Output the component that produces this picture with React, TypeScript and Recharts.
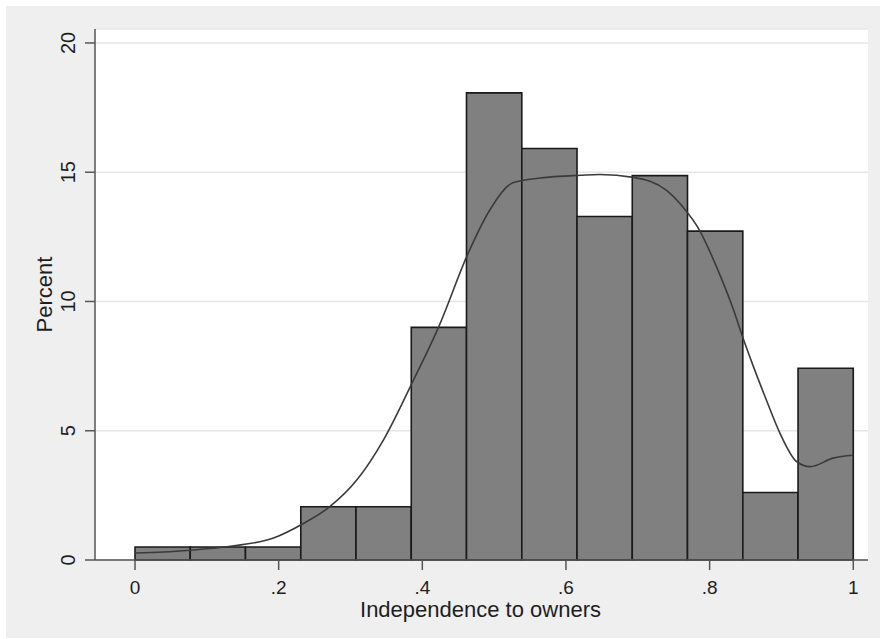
import {
  ComposedChart, Line, XAxis, YAxis, CartesianGrid, ReferenceArea,
} from "recharts";

// histogram bins (13 equal bins over 0..1), height in percent
const BIN_START = [0, 0.0769, 0.1538, 0.2308, 0.3077, 0.3846, 0.4615, 0.5385, 0.6154, 0.6923, 0.7692, 0.8462, 0.9231];
const BIN_END = [0.0769, 0.1538, 0.2308, 0.3077, 0.3846, 0.4615, 0.5385, 0.6154, 0.6923, 0.7692, 0.8462, 0.9231, 1];
const BIN_PERCENT = [0.5, 0.5, 0.5, 2.06, 2.06, 9.0, 18.07, 15.92, 13.29, 14.87, 12.72, 2.61, 7.42];

// kernel density overlay
const CURVE_X = [0, 0.04, 0.077, 0.133, 0.193, 0.235, 0.272, 0.309, 0.346, 0.388, 0.423, 0.464, 0.494, 0.527, 0.573, 0.62, 0.647, 0.694, 0.74, 0.763, 0.786, 0.8, 0.814, 0.833, 0.845, 0.861, 0.879, 0.898, 0.921, 0.94, 0.972, 1];
const CURVE_Y = [0.27, 0.31, 0.38, 0.53, 0.85, 1.42, 2.08, 3.1, 4.65, 6.98, 9.03, 11.88, 13.54, 14.6, 14.8, 14.88, 14.91, 14.8, 14.3, 13.65, 12.75, 11.95, 11.05, 9.7, 8.7, 7.48, 6.19, 4.9, 3.81, 3.61, 3.94, 4.05];

const X_TICKS = [0, 0.2, 0.4, 0.6, 0.8, 1];
const X_TICK_LABELS = ["0", ".2", ".4", ".6", ".8", "1"];
const Y_TICKS = [0, 5, 10, 15, 20];

const FONT = "'Liberation Sans', Arial, sans-serif";
const TEXT = "#1e1e1e";

const curveData = CURVE_X.map((x, i) => ({ x, d: CURVE_Y[i] }));

function XTick({ x, y, payload }: any) {
  const i = X_TICKS.indexOf(payload.value);
  return (
    <text x={x} y={y + 24} textAnchor="middle" fontSize={19} fontFamily={FONT} fill={TEXT}>
      {i >= 0 ? X_TICK_LABELS[i] : payload.value}
    </text>
  );
}

function YTick({ x, y, payload }: any) {
  const bx = x - 10;
  return (
    <text x={bx} y={y} transform={`rotate(-90, ${bx}, ${y})`} textAnchor="middle" fontSize={20} fontFamily={FONT} fill={TEXT}>
      {payload.value}
    </text>
  );
}

function XTitle(props: any) {
  const vb = props.viewBox || { x: 89, y: 554, width: 773, height: 78 };
  return (
    <text x={vb.x + vb.width / 2 - 1} y={vb.y + 57} textAnchor="middle" fontSize={22} fontFamily={FONT} fill={TEXT}>
      Independence to owners
    </text>
  );
}

function YTitle(props: any) {
  const vb = props.viewBox || { x: 0, y: 23, width: 89, height: 531 };
  const cx = vb.x + 46;
  const cy = vb.y + vb.height / 2;
  return (
    <text x={cx} y={cy} transform={`rotate(-90, ${cx}, ${cy})`} textAnchor="middle" fontSize={22} fontFamily={FONT} fill={TEXT}>
      Percent
    </text>
  );
}

export default function App() {
  return (
    <div style={{ position: "absolute", left: 0, top: 0, width: 880, height: 639, background: "#ffffff" }}>
      <div style={{ position: "absolute", left: 6, top: 6, width: 874, height: 632, background: "#efefef" }}>
        <ComposedChart
          width={874}
          height={632}
          data={curveData}
          margin={{ top: 23, right: 12, left: 0, bottom: 0 }}
        >
          <CartesianGrid vertical={false} fill="#ffffff" stroke="#e6e6e6" strokeWidth={1.5} />
          <XAxis
            dataKey="x"
            type="number"
            domain={[-0.0557, 1.0205]}
            ticks={X_TICKS}
            height={78}
            tickSize={10}
            tickMargin={0}
            tick={<XTick />}
            axisLine={{ stroke: "#555555", strokeWidth: 1.5 }}
            tickLine={{ stroke: "#555555", strokeWidth: 1.5 }}
            label={<XTitle />}
          />
          <YAxis
            type="number"
            domain={[0, 20.54]}
            ticks={Y_TICKS}
            width={89}
            tickSize={10}
            tickMargin={0}
            tick={<YTick />}
            axisLine={{ stroke: "#555555", strokeWidth: 1.5 }}
            tickLine={{ stroke: "#555555", strokeWidth: 1.5 }}
            label={<YTitle />}
          />
          {BIN_PERCENT.map((p, i) => (
            <ReferenceArea
              key={i}
              x1={BIN_START[i]}
              x2={BIN_END[i]}
              y1={0}
              y2={p}
              fill="#808080"
              fillOpacity={1}
              stroke="#1a1a1a"
              strokeWidth={1.6}
            />
          ))}
          <Line
            type="monotone"
            dataKey="d"
            stroke="#3a3a3a"
            strokeWidth={1.6}
            dot={false}
            activeDot={false}
            isAnimationActive={false}
          />
        </ComposedChart>
      </div>
    </div>
  );
}
